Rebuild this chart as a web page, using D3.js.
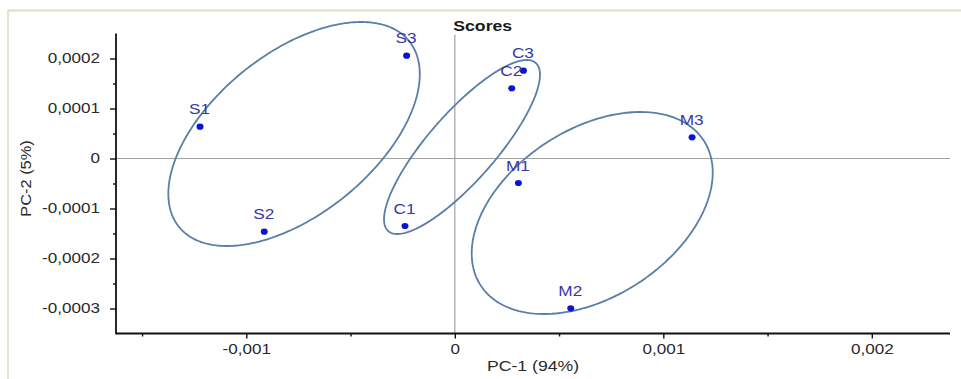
<!DOCTYPE html>
<html>
<head>
<meta charset="utf-8">
<script src="https://cdn.jsdelivr.net/npm/d3@7"></script>
<style>
  html, body { margin: 0; padding: 0; background: #ffffff; }
  svg { display: block; }
  text { font-family: "Liberation Sans", Arial, sans-serif; }
</style>
</head>
<body>
<script>
// ---------- data ----------
const sampleLabels = ["S1", "S2", "S3", "C1", "C2", "C3", "M1", "M2", "M3"];
const pc1Scores = [-0.001222, -0.000914, -0.000231, -0.000239, 0.000273, 0.000329, 0.000305, 0.000556, 0.001138];
const pc2Scores = [0.0000636, -0.0001464, 0.0002056, -0.000135, 0.0001404, 0.0001756, -0.000049, -0.0002996, 0.0000424];

// group ellipses: centre, half-width (PC-1), half-height (PC-2), correlation
const groupNames = ["S", "C", "M"];
const ellipseCx = [-0.000771, 0.0000345, 0.000659];
const ellipseCy = [0.000049, 0.000023, -0.000109];
const ellipseRx = [0.000603, 0.000374, 0.000578];
const ellipseRy = [0.000224, 0.000174, 0.000202];
const ellipseRho = [0.534, 0.83, 0.40];

const xMajorTicks = [-0.001, 0, 0.001, 0.002];
const xMinorTicks = [-0.0015, -0.0005, 0.0005, 0.0015];
const yMajorTicks = [0.0002, 0.0001, 0, -0.0001, -0.0002, -0.0003];
const yMinorTicks = [0.00015, 0.00005, -0.00005, -0.00015, -0.00025];

const chartTitle = "Scores";
const xTitle = "PC-1 (94%)";
const yTitle = "PC-2 (5%)";

(function () {
// ---------- layout ----------
const W = 961, H = 379;
const pL = 116, pR = 950, pT = 33.5, pB = 333.5;
const SX = 1.22; // horizontal stretch of the original rendering

const svg = d3.select("body").append("svg").attr("width", W).attr("height", H);

// frame
svg.append("line").attr("x1", 8).attr("x2", W).attr("y1", 10.5).attr("y2", 10.5)
  .attr("stroke", "#e2dcc6").attr("stroke-width", 2);
svg.append("line").attr("x1", 8).attr("x2", 8).attr("y1", 10).attr("y2", H)
  .attr("stroke", "#e2dcc6").attr("stroke-width", 1.6);

const x = d3.scaleLinear().domain([-0.001625, 0.002375]).range([pL, pR]);
const y = d3.scaleLinear().domain([-0.00035, 0.00025]).range([pB, pT]);

const loc = d3.formatLocale({decimal: ",", thousands: ".", grouping: [3], currency: ["", ""], minus: "-"});
const fmt = loc.format("~g");

// reference lines at zero
svg.append("line").attr("x1", x(0)).attr("x2", x(0)).attr("y1", pT + 1).attr("y2", pB)
  .attr("stroke", "#a8a8a8").attr("stroke-width", 1.3);
svg.append("line").attr("x1", pL).attr("x2", pR).attr("y1", y(0)).attr("y2", y(0))
  .attr("stroke", "#a0a0a0").attr("stroke-width", 1.2);

// axes
const xAxisG = svg.append("g").attr("transform", `translate(0,${pB})`);
xAxisG.call(d3.axisBottom(x).tickValues(xMajorTicks).tickSize(5).tickFormat(fmt));
const xMinorG = svg.append("g").attr("transform", `translate(0,${pB})`);
xMinorG.call(d3.axisBottom(x).tickValues(xMinorTicks).tickSize(3).tickFormat(""));

const yAxisG = svg.append("g").attr("transform", `translate(${pL},0)`);
yAxisG.call(d3.axisLeft(y).tickValues(yMajorTicks).tickSize(6).tickFormat(fmt));
const yMinorG = svg.append("g").attr("transform", `translate(${pL},0)`);
yMinorG.call(d3.axisLeft(y).tickValues(yMinorTicks).tickSize(3).tickFormat(""));

svg.selectAll(".domain").remove();
svg.selectAll(".tick line").attr("stroke", "#111").attr("stroke-width", 1.4);

xAxisG.selectAll(".tick text")
  .attr("y", null).attr("dy", "0.71em")
  .attr("transform", `translate(0,11) scale(${SX},1)`)
  .attr("font-size", 14).attr("fill", "#2a2a2a").attr("font-family", "Liberation Sans, Arial, sans-serif");
yAxisG.selectAll(".tick text")
  .attr("x", null)
  .attr("transform", `translate(-16,0) scale(${SX},1)`)
  .attr("font-size", 14).attr("fill", "#2a2a2a").attr("font-family", "Liberation Sans, Arial, sans-serif");

// axis lines
svg.append("line").attr("x1", pL).attr("x2", pL).attr("y1", pT).attr("y2", pB + 0.7)
  .attr("stroke", "#111").attr("stroke-width", 1.8);
svg.append("line").attr("x1", pL).attr("x2", pR).attr("y1", pB).attr("y2", pB)
  .attr("stroke", "#111").attr("stroke-width", 1.8);

// titles
svg.append("text").text(chartTitle)
  .attr("transform", `translate(${x(0) - 1.5},30.5) scale(1.26,1)`)
  .attr("font-size", 14).attr("font-weight", "bold").attr("fill", "#1a1a1a");
svg.append("text").text(xTitle)
  .attr("transform", `translate(${(pL + pR) / 2},371) scale(1.26,1)`)
  .attr("text-anchor", "middle").attr("font-size", 14).attr("fill", "#2a2a2a");
svg.append("text").text(yTitle)
  .attr("transform", `translate(31,${(pT + pB) / 2 - 5}) rotate(-90) scale(1.17,1)`)
  .attr("text-anchor", "middle").attr("font-size", 14).attr("fill", "#2a2a2a");

// ellipses
const steps = d3.range(0, 240).map(i => i / 240 * 2 * Math.PI);
const line = d3.line().curve(d3.curveLinearClosed);
groupNames.forEach((g, i) => {
  const s = Math.sqrt(1 - ellipseRho[i] * ellipseRho[i]);
  const pts = steps.map(t => {
    const dx = ellipseRx[i] * Math.cos(t);
    const dy = ellipseRy[i] * (ellipseRho[i] * Math.cos(t) + s * Math.sin(t));
    return [x(ellipseCx[i] + dx), y(ellipseCy[i] + dy)];
  });
  svg.append("path").attr("d", line(pts))
    .attr("fill", "none").attr("stroke", "#5a7ea6").attr("stroke-width", 1.8);
});

// points and labels
const pts = sampleLabels.map((l, i) => ({label: l, px: pc1Scores[i], py: pc2Scores[i]}));
svg.selectAll("ellipse.pt").data(pts).enter().append("ellipse")
  .attr("class", "pt")
  .attr("cx", d => x(d.px)).attr("cy", d => y(d.py))
  .attr("rx", 3.5).attr("ry", 3.1)
  .attr("fill", "#0a14d8");
svg.selectAll("text.lbl").data(pts).enter().append("text")
  .attr("class", "lbl")
  .attr("transform", d => `translate(${x(d.px) - 0.5},${y(d.py) - 12.5}) scale(1.23,1)`)
  .attr("text-anchor", "middle").attr("font-size", 14).attr("fill", "#3838a6")
  .text(d => d.label);
})();
</script>
</body>
</html>
